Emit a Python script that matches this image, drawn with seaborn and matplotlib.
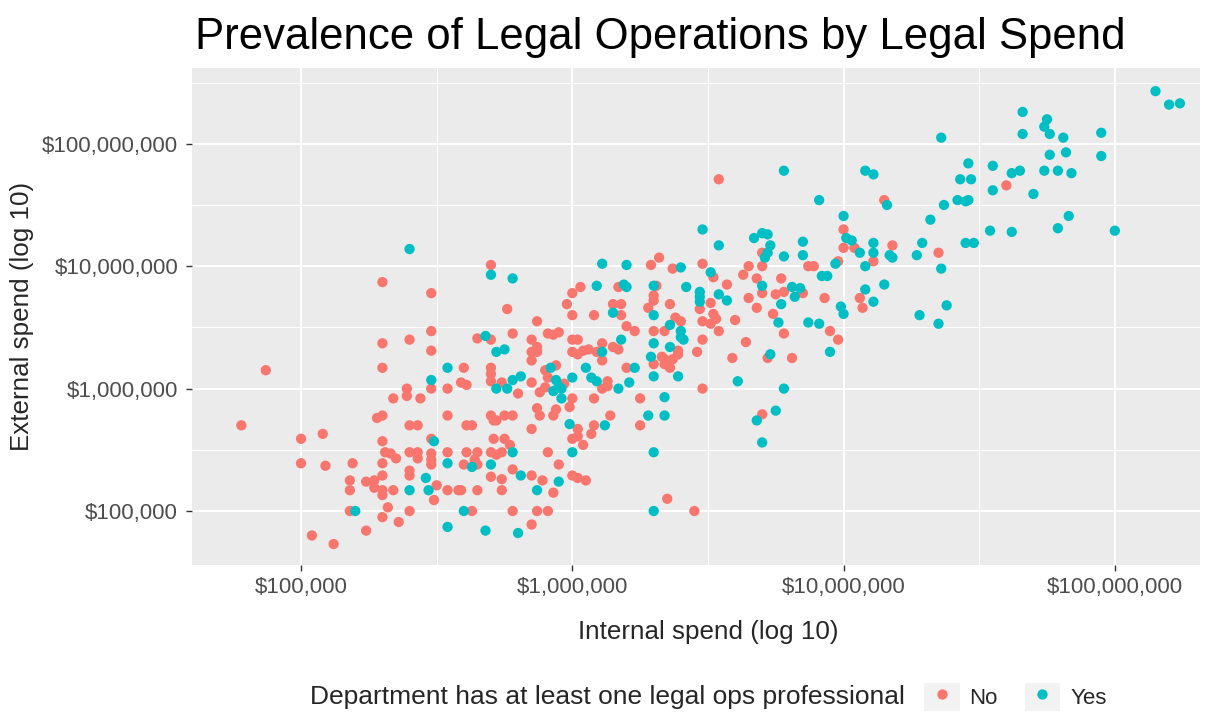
import numpy as np
import pandas as pd
import matplotlib
matplotlib.use("Agg")
import matplotlib.pyplot as plt
from matplotlib.ticker import FixedLocator, NullFormatter
from matplotlib.lines import Line2D
from matplotlib.patches import Patch
from matplotlib.legend_handler import HandlerTuple
import seaborn as sns

# spend values as log10(dollars)
no_internal_log10 = [
    6.54, 7.15, 7.00, 7.60, 6.70, 7.00, 7.04, 7.18, 7.11, 7.35,
    6.48, 6.52, 6.65, 6.70, 6.63, 6.68, 6.77, 6.87, 6.89, 6.98,
    6.57, 6.51, 6.47, 6.65, 6.70, 6.75, 6.78, 6.85, 6.68, 6.74,
    6.93, 7.06, 7.07, 6.52, 6.53, 6.51, 6.48, 6.54, 6.60, 6.78,
    6.95, 6.98, 6.48, 6.64, 6.46, 6.59, 6.72, 6.81, 6.48, 5.70,
    6.29, 6.32, 6.37, 6.03, 6.00, 6.17, 6.31, 6.30, 6.30, 5.98,
    6.00, 6.08, 6.15, 6.18, 6.18, 6.28, 6.36, 5.76, 5.87, 6.38,
    6.40, 6.20, 6.23, 6.30, 6.34, 5.65, 5.70, 5.78, 5.91, 5.93,
    5.95, 5.85, 6.00, 6.02, 6.39, 5.85, 5.87, 5.87, 5.85, 6.00,
    6.02, 6.04, 6.06, 6.09, 6.11, 6.11, 6.15, 6.17, 6.33, 6.34,
    6.37, 6.39, 6.30, 6.34, 6.36, 5.60, 5.70, 5.70, 5.70, 5.90,
    5.91, 5.94, 6.20, 5.59, 5.61, 5.74, 5.85, 5.97, 6.13, 6.13,
    6.11, 5.54, 5.90, 5.88, 5.80, 6.00, 5.99, 6.08, 6.25, 5.30,
    5.48, 5.48, 5.30, 5.40, 5.48, 4.87, 5.30, 5.39, 5.48, 5.39,
    5.34, 5.44, 4.78, 5.28, 5.30, 5.40, 5.43, 5.00, 5.08, 5.48,
    5.30, 5.31, 5.33, 5.35, 5.40, 5.43, 5.43, 5.48, 5.48, 5.48,
    5.00, 5.09, 5.19, 5.30, 5.40, 5.40, 5.30, 5.18, 5.24, 5.27,
    5.27, 5.50, 5.18, 5.30, 5.30, 5.34, 5.49, 5.18, 5.32, 5.40,
    5.30, 5.36, 5.24, 5.04, 5.12, 5.54, 5.61, 5.63, 5.70, 5.71,
    5.72, 5.75, 5.78, 5.87, 5.88, 5.93, 5.94, 5.85, 6.02, 6.02,
    6.00, 6.04, 6.08, 6.07, 6.14, 6.25, 5.71, 5.75, 5.77, 5.54,
    5.61, 5.65, 5.70, 5.72, 5.74, 5.91, 5.60, 5.64, 5.65, 5.78,
    5.95, 5.85, 5.70, 5.74, 5.89, 6.00, 6.02, 6.05, 5.54, 5.58,
    5.59, 5.65, 5.74, 5.93, 6.35, 5.63, 5.78, 5.87, 5.91, 6.45,
    5.85, 6.70,
]
no_external_log10 = [
    7.71, 7.54, 7.30, 7.66, 7.11, 7.15, 7.15, 7.17, 7.04, 7.11,
    7.02, 6.91, 7.00, 7.00, 6.93, 6.90, 6.90, 7.00, 7.00, 7.04,
    6.85, 6.70, 6.65, 6.74, 6.78, 6.77, 6.79, 6.78, 6.66, 6.61,
    6.74, 6.74, 6.66, 6.61, 6.57, 6.53, 6.55, 6.47, 6.56, 6.45,
    6.47, 6.40, 6.40, 6.38, 6.30, 6.25, 6.25, 6.25, 6.00, 7.01,
    7.01, 7.07, 6.98, 6.83, 6.78, 6.83, 6.84, 6.76, 6.72, 6.69,
    6.60, 6.60, 6.69, 6.69, 6.60, 6.66, 6.69, 6.65, 6.55, 6.58,
    6.55, 6.51, 6.47, 6.47, 6.47, 6.41, 6.40, 6.45, 6.45, 6.44,
    6.46, 6.40, 6.40, 6.40, 6.31, 6.30, 6.34, 6.30, 6.23, 6.30,
    6.28, 6.31, 6.32, 6.30, 6.37, 6.23, 6.34, 6.32, 6.26, 6.24,
    6.24, 6.28, 6.20, 6.20, 6.17, 6.17, 6.17, 6.12, 6.06, 6.15,
    6.09, 6.19, 6.17, 6.05, 6.03, 6.05, 6.05, 6.04, 6.06, 6.02,
    6.00, 6.00, 6.01, 5.97, 5.96, 5.92, 5.85, 5.92, 5.92, 6.87,
    6.78, 6.47, 6.37, 6.40, 6.31, 6.15, 6.17, 6.00, 6.00, 5.94,
    5.92, 5.92, 5.70, 5.76, 5.78, 5.70, 5.70, 5.59, 5.63, 5.59,
    5.57, 5.48, 5.47, 5.43, 5.48, 5.48, 5.43, 5.47, 5.42, 5.38,
    5.39, 5.37, 5.39, 5.39, 5.33, 5.29, 5.29, 5.25, 5.24, 5.25,
    5.19, 5.21, 5.17, 5.17, 5.13, 5.17, 5.09, 5.00, 5.03, 5.00,
    4.95, 4.91, 4.84, 4.80, 4.73, 5.78, 5.70, 5.70, 5.78, 5.74,
    5.74, 5.78, 5.78, 5.84, 5.78, 5.78, 5.83, 5.67, 5.67, 5.61,
    5.59, 5.54, 5.70, 5.63, 5.78, 5.70, 5.59, 5.59, 5.54, 5.48,
    5.48, 5.48, 5.48, 5.46, 5.48, 5.48, 5.38, 5.42, 5.38, 5.34,
    5.38, 5.29, 5.28, 5.26, 5.25, 5.29, 5.27, 5.25, 5.17, 5.17,
    5.17, 5.17, 5.17, 5.15, 5.10, 5.00, 5.00, 5.00, 5.00, 5.00,
    4.89, 5.79,
]
yes_internal_log10 = [
    7.36, 6.78, 7.08, 7.11, 6.91, 7.16, 7.37, 7.00, 7.32, 6.48,
    8.15, 8.20, 8.24, 7.66, 7.75, 7.74, 7.76, 7.66, 7.81, 7.95,
    7.76, 7.82, 7.95, 7.46, 7.55, 7.43, 7.47, 7.62, 7.65, 7.55,
    7.74, 7.79, 7.84, 7.70, 7.42, 7.45, 7.46, 7.83, 7.79, 7.54,
    7.62, 8.00, 7.45, 7.48, 7.38, 6.54, 6.67, 6.70, 6.72, 6.73,
    6.72, 6.71, 6.78, 6.85, 6.85, 7.01, 7.03, 7.06, 7.11, 7.11,
    7.17, 7.18, 7.08, 7.29, 7.27, 7.36, 6.51, 6.70, 6.97, 6.92,
    6.94, 6.47, 6.47, 6.47, 6.54, 6.57, 6.81, 6.84, 6.82, 6.77,
    7.15, 7.08, 7.11, 6.99, 7.00, 7.28, 7.35, 6.76, 6.87, 6.91,
    6.73, 6.95, 6.61, 6.78, 5.70, 5.78, 6.11, 6.20, 6.40, 6.09,
    6.19, 6.20, 6.30, 6.42, 6.15, 6.30, 6.36, 6.40, 6.40, 6.41,
    5.68, 6.18, 6.30, 6.36, 5.72, 5.75, 6.11, 6.29, 5.54, 5.92,
    6.05, 6.23, 6.30, 6.39, 5.78, 5.81, 5.94, 5.95, 5.96, 6.00,
    6.07, 6.09, 6.21, 5.72, 5.76, 5.93, 5.96, 6.17, 6.34, 5.40,
    5.48, 5.49, 5.46, 5.40, 5.47, 5.20, 5.99, 6.12, 6.28, 6.34,
    5.78, 6.00, 6.30, 5.54, 5.63, 5.70, 5.81, 5.95, 5.87, 5.60,
    6.30, 5.54, 5.68, 5.80, 6.68, 6.75, 6.70,
]
yes_external_log10 = [
    8.05, 7.78, 7.78, 7.75, 7.54, 7.50, 7.50, 7.41, 7.38, 7.30,
    8.43, 8.32, 8.33, 8.26, 8.20, 8.14, 8.08, 8.08, 8.05, 8.09,
    7.91, 7.93, 7.90, 7.84, 7.82, 7.71, 7.71, 7.76, 7.78, 7.62,
    7.78, 7.78, 7.76, 7.59, 7.54, 7.53, 7.54, 7.41, 7.31, 7.29,
    7.28, 7.29, 7.19, 7.19, 6.68, 7.17, 7.23, 7.27, 7.26, 7.17,
    7.11, 7.07, 7.08, 7.20, 7.09, 7.23, 7.21, 7.11, 7.19, 7.11,
    7.09, 7.07, 7.00, 7.19, 7.09, 6.98, 6.95, 6.84, 7.02, 6.92,
    6.92, 6.79, 6.75, 6.71, 6.77, 6.72, 6.83, 6.82, 6.75, 6.69,
    6.85, 6.81, 6.71, 6.67, 6.61, 6.60, 6.53, 6.54, 6.54, 6.53,
    6.28, 6.30, 6.06, 6.00, 6.93, 6.90, 7.02, 7.01, 6.99, 6.84,
    6.85, 6.83, 6.84, 6.83, 6.62, 6.60, 6.52, 6.47, 6.42, 6.40,
    6.43, 6.40, 6.37, 6.34, 6.30, 6.32, 6.30, 6.26, 6.17, 6.17,
    6.17, 6.17, 6.10, 6.10, 6.07, 6.10, 6.07, 6.02, 6.00, 6.09,
    6.09, 6.06, 6.05, 6.00, 6.00, 5.98, 5.92, 6.00, 5.93, 7.14,
    6.07, 5.57, 5.27, 5.17, 5.17, 5.00, 5.71, 5.70, 5.78, 5.78,
    5.48, 5.48, 5.48, 5.39, 5.36, 5.38, 5.29, 5.24, 5.17, 5.00,
    5.00, 4.87, 4.84, 4.82, 5.74, 5.82, 5.56,
]

group_labels = ["No", "Yes"]
tick_values = [1e5, 1e6, 1e7, 1e8]
tick_labels = ["$100,000", "$1,000,000", "$10,000,000", "$100,000,000"]
minor_values = [10 ** 4.5, 10 ** 5.5, 10 ** 6.5, 10 ** 7.5, 10 ** 8.5]
palette = {"No": "#F8766D", "Yes": "#00BFC4"}

df = pd.DataFrame({
    "internal": 10 ** np.array(no_internal_log10 + yes_internal_log10),
    "external": 10 ** np.array(no_external_log10 + yes_external_log10),
    "ops": ["No"] * len(no_internal_log10) + ["Yes"] * len(yes_internal_log10),
})

sns.set_theme(style="darkgrid", rc={"axes.facecolor": "#EBEBEB"})
plt.rcParams["font.family"] = ["Liberation Sans", "DejaVu Sans"]

W, H = 1215, 713
fig = plt.figure(figsize=(W / 100, H / 100), dpi=100)
fig.patch.set_facecolor("white")
ax = fig.add_axes([192 / W, 1 - 565 / H, (1200 - 192) / W, (565 - 68) / H])

sns.scatterplot(data=df, x="internal", y="external", hue="ops", palette=palette,
                s=55, linewidth=0, alpha=1, ax=ax, legend=False, zorder=3)

ax.set_xscale("log")
ax.set_yscale("log")
ax.set_xlim(10 ** 4.598, 10 ** 8.314)
ax.set_ylim(10 ** 4.559, 10 ** 8.619)

ax.set_xticks(tick_values, tick_labels)
ax.set_yticks(tick_values, tick_labels)
for axis in (ax.xaxis, ax.yaxis):
    axis.set_minor_locator(FixedLocator(minor_values))
    axis.set_minor_formatter(NullFormatter())

ax.grid(which="major", color="white", linewidth=1.5)
ax.grid(which="minor", color="white", linewidth=0.75)
ax.set_axisbelow(True)
for s in ax.spines.values():
    s.set_visible(False)
ax.tick_params(which="minor", length=0)
ax.tick_params(which="major", bottom=True, left=True, length=4, width=1,
               color="#333333", labelsize=16, labelcolor="#4D4D4D")
ax.tick_params(axis="x", pad=5)
ax.tick_params(axis="y", pad=6)
ax.set_xlabel("")
ax.set_ylabel("")

fig.text(195 / W, 1 - 49 / H, "Prevalence of Legal Operations by Legal Spend",
         fontsize=31.5, ha="left", va="baseline", color="black")
fig.text(708 / W, 1 - 632 / H, "Internal spend (log 10)", fontsize=18.7,
         ha="center", va="center")
fig.text(22 / W, 1 - 316 / H, "External spend (log 10)", fontsize=18.7,
         ha="center", va="center", rotation=90)

# legend along the bottom: title on the left, keys to the right
fig.text(905 / W, 1 - 697 / H, "Department has at least one legal ops professional",
         fontsize=19, ha="right", va="center")
handles = [(Patch(facecolor="#F2F2F2", edgecolor="none"),
            Line2D([], [], ls="none", marker="o", ms=7.4, mfc=palette[g], mec="none"))
           for g in group_labels]
fig.legend(handles, group_labels, handler_map={tuple: HandlerTuple(ndivide=1, pad=0)},
           loc="center left", bbox_to_anchor=(924 / W, 1 - 697 / H), ncol=2,
           frameon=False, fontsize=16, handlelength=1.6, handleheight=1.6,
           handletextpad=0.45, columnspacing=1.2, borderpad=0, borderaxespad=0)

fig.savefig("out.png", dpi=100)
